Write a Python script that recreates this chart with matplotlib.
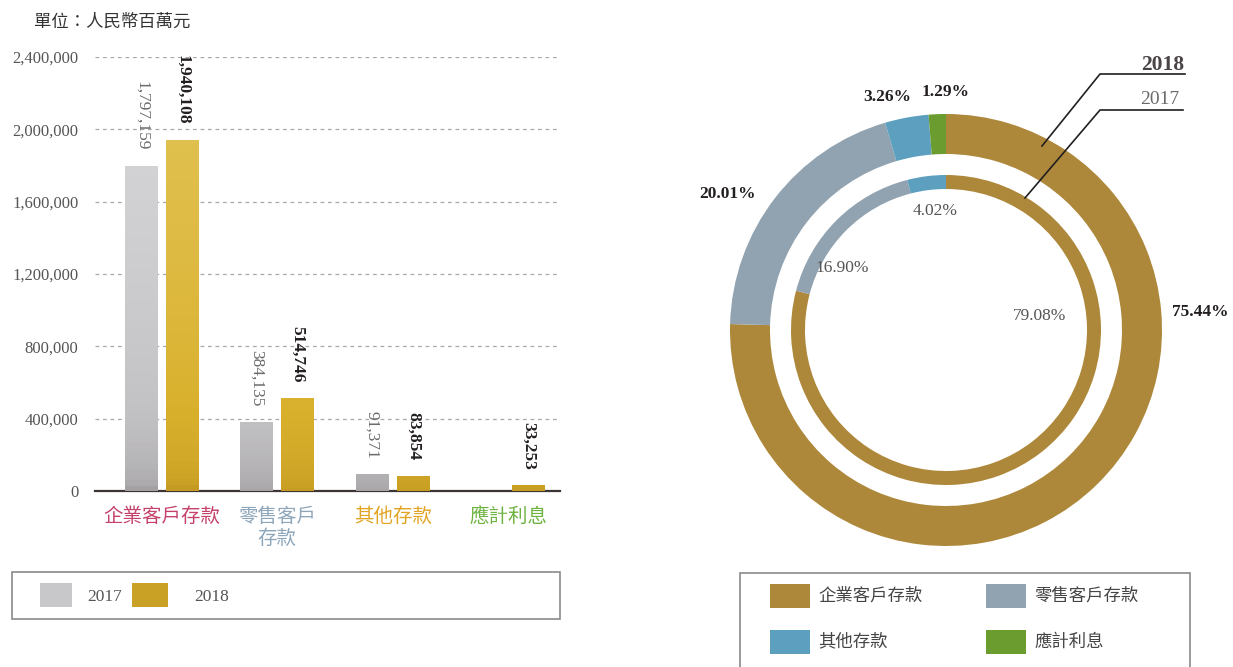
import numpy as np
import matplotlib
matplotlib.use("Agg")
import matplotlib.pyplot as plt
from matplotlib.colors import LinearSegmentedColormap
from matplotlib.patches import Rectangle

# ---------------- data ----------------
categories = ["企業客戶存款", "零售客戶\n存款", "其他存款", "應計利息"]
legend_names = ["企業客戶存款", "零售客戶存款", "其他存款", "應計利息"]
values_2017 = [1797159, 384135, 91371, np.nan]
values_2018 = [1940108, 514746, 83854, 33253]
yticks = [0, 400000, 800000, 1200000, 1600000, 2000000, 2400000]
share_2018 = [75.44, 20.01, 3.26, 1.29]
share_2017 = [79.08, 16.90, 4.02]
unit_label = "單位：人民幣百萬元"

FONT = ["Liberation Serif", "Noto Sans CJK TC", "DejaVu Sans"]
plt.rcParams["font.family"] = FONT

W, H = 1233, 667
fig = plt.figure(figsize=(W / 100, H / 100), dpi=100)
fig.patch.set_facecolor("white")


def fx(px):
    return px / W


def fy(py):
    return (H - py) / H


# ---------------- bar chart ----------------
ax = fig.add_axes([fx(95), fy(491), fx(560) - fx(95), fy(57) - fy(491)])
x = np.arange(len(categories))
bw = 0.286
off = 0.178
bars17 = ax.bar(x - off, values_2017, bw, color="#bdbcbe", zorder=2, linewidth=0)
bars18 = ax.bar(x + off, values_2018, bw, color="#d4b035", zorder=2, linewidth=0)

cm_gray = LinearSegmentedColormap.from_list("g", ["#a4a1a4", "#c2c1c3", "#d4d4d6"])
cm_gold = LinearSegmentedColormap.from_list("y", ["#c49a22", "#d9b02c", "#e0c04e"])
for bars, cm in ((bars17, cm_gray), (bars18, cm_gold)):
    for b in bars:
        h = b.get_height()
        if not np.isfinite(h) or h <= 0:
            continue
        ys = np.linspace(0, h, 60)
        t = (ys / 2.0e6) ** 0.45
        img = ax.imshow(t.reshape(-1, 1), extent=[b.get_x(), b.get_x() + b.get_width(), 0, h],
                        origin="lower", aspect="auto", cmap=cm, vmin=0, vmax=1, zorder=3)
        img.set_clip_path(b)

ax.set_xlim(-0.58, 3.45)
ax.set_ylim(0, 2400000)
ax.set_yticks(yticks)
ax.set_yticklabels([f"{v:,}" for v in yticks], fontsize=12, color="#555555")
ax.tick_params(axis="y", length=0, pad=12)
ax.set_xticks(x)
ax.set_xticklabels(categories, fontsize=14, linespacing=1.25)
for lbl, c in zip(ax.get_xticklabels(), ["#c4416a", "#8ea6ba", "#e2a423", "#6db340"]):
    lbl.set_color(c)
ax.tick_params(axis="x", length=0, pad=12)
ax.grid(axis="y", linestyle=(0, (3, 3)), color="#a8a8a8", linewidth=0.9, zorder=0)
ax.set_axisbelow(True)
for s in ("left", "right", "top"):
    ax.spines[s].set_visible(False)
ax.spines["bottom"].set_color("#3d3434")
ax.spines["bottom"].set_linewidth(1.6)

for b, v in zip(bars17, values_2017):
    if np.isfinite(v):
        ax.annotate(f"{v:,}", (b.get_x() + b.get_width() / 2, v), xytext=(0, 11),
                    textcoords="offset points", rotation=270, ha="center", va="bottom",
                    fontsize=12.5, color="#6a6a6a")
for b, v in zip(bars18, values_2018):
    ax.annotate(f"{v:,}", (b.get_x() + b.get_width() / 2, v), xytext=(0, 11),
                textcoords="offset points", rotation=270, ha="center", va="bottom",
                fontsize=12.5, color="#231f20", fontweight="bold")

fig.text(fx(34), fy(22), unit_label, fontsize=12.5, color="#333333", va="center", ha="left")

# left legend
fig.patches.append(Rectangle((fx(12), fy(619)), fx(560) - fx(12), fy(572) - fy(619),
                             transform=fig.transFigure, fill=False, edgecolor="#8a8a8a",
                             linewidth=1.2))
fig.patches.append(Rectangle((fx(40), fy(607)), fx(72) - fx(40), fy(583) - fy(607),
                             transform=fig.transFigure, facecolor="#c8c7c9", edgecolor="none"))
fig.patches.append(Rectangle((fx(132), fy(607)), fx(168) - fx(132), fy(583) - fy(607),
                             transform=fig.transFigure, facecolor="#c9a125", edgecolor="none"))
fig.text(fx(87), fy(597), "2017", fontsize=12.5, color="#555555", va="center")
fig.text(fx(194), fy(597), "2018", fontsize=12.5, color="#555555", va="center")

# ---------------- donut ----------------
cx, cy = 946, 330
R = 300
ax2 = fig.add_axes([fx(cx - R), fy(cy + R), fx(2 * R), fy(0) - fy(2 * R)])
colors = ["#ae883a", "#91a3b1", "#5c9fbf", "#6a9c30"]
ax2.pie(share_2018, radius=216, colors=colors, startangle=90, counterclock=False,
        wedgeprops=dict(width=40, linewidth=0), frame=True)
ax2.pie(share_2017, radius=155, colors=colors[:3], startangle=90, counterclock=False,
        wedgeprops=dict(width=14, linewidth=0), frame=True)
ax2.set_xlim(-R, R)
ax2.set_ylim(-R, R)
ax2.set_aspect("equal")
ax2.axis("off")

outer_pos = [(254, 18), (-219, 136), (-59, 233), (0, 238)]
inner_pos = [(94, 14), (-104, 62), (-11, 119)]
for (px, py), s in zip(outer_pos, share_2018):
    ax2.text(px, py, f"{s:.2f}%", ha="center", va="center", fontsize=12.5,
             fontweight="bold", color="#231f20", clip_on=False)
for (px, py), s in zip(inner_pos, share_2017):
    ax2.text(px, py, f"{s:.2f}%", ha="center", va="center", fontsize=12.5,
             color="#555555", clip_on=False)

# leader lines
ax2.plot([96, 154, 239], [184, 256, 256], color="#231f20", lw=1.2, clip_on=False)
ax2.plot([79, 154, 237], [132, 220, 220], color="#231f20", lw=1.2, clip_on=False)
ax2.text(217, 265, "2018", ha="center", va="center", fontsize=15.5, fontweight="bold",
         color="#4a4445", clip_on=False)
ax2.text(214, 230, "2017", ha="center", va="center", fontsize=14, color="#6a6a6a",
         clip_on=False)

# right legend
fig.patches.append(Rectangle((fx(740), fy(680)), fx(1190) - fx(740), fy(573) - fy(680),
                             transform=fig.transFigure, fill=False, edgecolor="#8a8a8a",
                             linewidth=1.2))
leg_xy = [(770, 596), (986, 596), (770, 642), (986, 642)]
for (lx, ly), c, name in zip(leg_xy, colors, legend_names):
    fig.patches.append(Rectangle((fx(lx), fy(ly + 12)), fx(40), fy(0) - fy(24),
                                 transform=fig.transFigure, facecolor=c, edgecolor="none"))
    fig.text(fx(lx + 48), fy(ly), name, fontsize=12.5, color="#444444", va="center")

fig.savefig("out.png", dpi=100)
